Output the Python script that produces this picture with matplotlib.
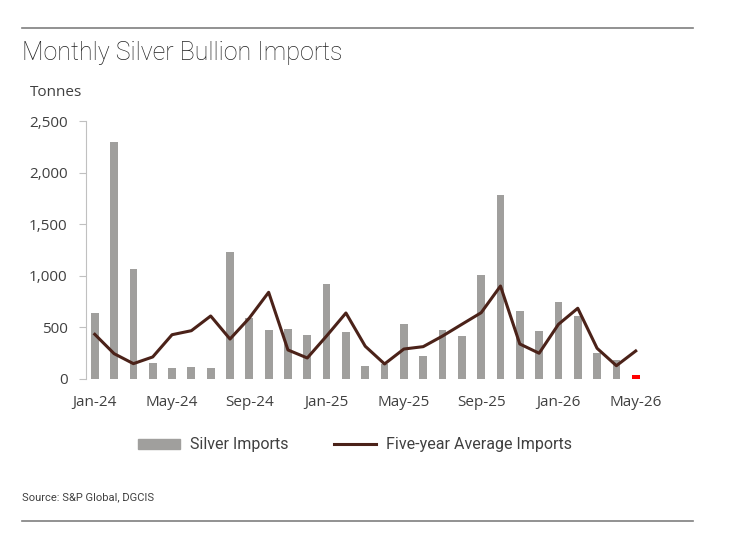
import matplotlib.pyplot as plt
import matplotlib.lines as mlines
import numpy as np

# ===================
# Data
# ===================
months = ["Jan-24", "Feb-24", "Mar-24", "Apr-24", "May-24", "Jun-24", "Jul-24", "Aug-24",
          "Sep-24", "Oct-24", "Nov-24", "Dec-24", "Jan-25", "Feb-25", "Mar-25", "Apr-25",
          "May-25", "Jun-25", "Jul-25", "Aug-25", "Sep-25", "Oct-25", "Nov-25", "Dec-25",
          "Jan-26", "Feb-26", "Mar-26", "Apr-26", "May-26"]
silver_imports = [638, 2296, 1068, 152, 104, 110, 104, 1227,
                  592, 470, 486, 421, 917, 456, 126, 143,
                  534, 220, 476, 412, 1010, 1784, 660, 460,
                  745, 612, 247, 182, 38]
five_year_avg = [431, 243, 146, 211, 427, 466, 609, 385,
                 589, 839, 279, 201, 415, 638, 315, 143,
                 288, 311, 414, 528, 641, 900, 337, 247,
                 528, 684, 295, 126, 269]
y_ticks = [0, 500, 1000, 1500, 2000, 2500]

# ===================
# Plot
# ===================
bar_color = "#a09f9d"
line_color = "#4b2219"
text_color = "#404040"

fig = plt.figure(figsize=(7.38, 5.6), dpi=100)
ax = fig.add_axes([0.1161, 0.3238, 0.7584, 0.4596])

x = np.arange(len(months))
colors = [bar_color] * (len(months) - 1) + ["#ff0000"]
ax.bar(x, silver_imports, width=0.4, color=colors, zorder=2)
ax.plot(x, five_year_avg, color=line_color, linewidth=2.2, zorder=3)

ax.set_xlim(-0.47, len(months) - 0.5)
ax.set_ylim(0, 2500)
ax.set_yticks(y_ticks)
ax.set_yticklabels([f"{v:,}" for v in y_ticks])
ax.set_xticks(x[::4])
ax.set_xticklabels(months[::4])

for s in ["top", "right", "bottom"]:
    ax.spines[s].set_visible(False)
ax.spines["left"].set_color("#c0c0c0")
ax.tick_params(axis="y", length=5, color="#c0c0c0", pad=8, labelsize=11, labelcolor=text_color)
ax.tick_params(axis="x", length=0, pad=12, labelsize=11, labelcolor=text_color)
for lab in ax.get_xticklabels() + ax.get_yticklabels():
    lab.set_fontfamily("Open Sans")

# Title, unit, source
fig.text(22 / 738, 1 - 60 / 560, "Monthly Silver Bullion Imports", fontsize=18,
         family="Roboto", fontweight="light", color="#222222", va="baseline", ha="left")
fig.text(30 / 738, 1 - 96 / 560, "Tonnes", fontsize=11, family="Open Sans",
         color=text_color, va="baseline", ha="left")
fig.text(22 / 738, 1 - 497 / 560, "Source: S&P Global, DGCIS", fontsize=8,
         family="Roboto", color=text_color, va="center", ha="left")

# Rules
for yy in [28, 521]:
    fig.add_artist(mlines.Line2D([22 / 738, 693 / 738], [1 - yy / 560, 1 - yy / 560],
                                 color="#7f7f7f", linewidth=1.2))

# Legend
h_bar = plt.Rectangle((0, 0), 1, 1, color=bar_color)
h_line = mlines.Line2D([], [], color=line_color, linewidth=2.2)
leg = fig.legend([h_bar, h_line], ["Silver Imports", "Five-year Average Imports"],
                 loc="center", bbox_to_anchor=(355 / 738, 1 - 445 / 560), ncol=2,
                 frameon=False, handlelength=2.6, handleheight=0.6, handletextpad=0.6,
                 columnspacing=2.9, prop={"family": "Roboto", "size": 11.5})
for t in leg.get_texts():
    t.set_color(text_color)

plt.savefig("out.png", dpi=100)
